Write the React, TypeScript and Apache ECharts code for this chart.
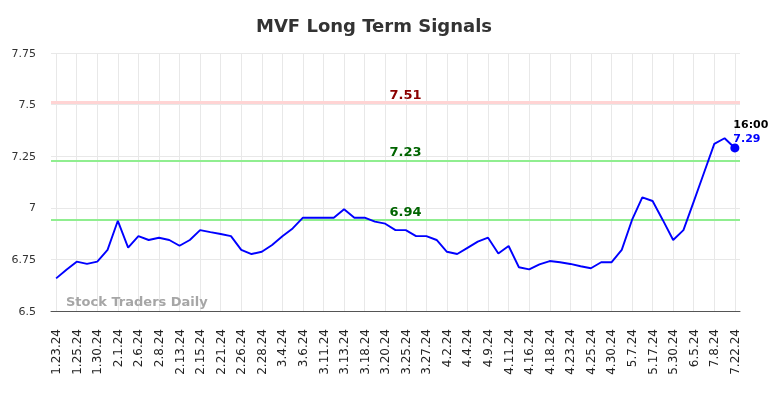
import React, { useEffect, useRef } from "react";
import * as echarts from "echarts";

const categories = [
  "1.23.24","1.24.24","1.25.24","1.29.24","1.30.24","1.31.24","2.1.24","2.5.24","2.6.24","2.7.24",
  "2.8.24","2.12.24","2.13.24","2.14.24","2.15.24","2.20.24","2.21.24","2.23.24","2.26.24","2.27.24",
  "2.28.24","3.1.24","3.4.24","3.5.24","3.6.24","3.8.24","3.11.24","3.12.24","3.13.24","3.15.24",
  "3.18.24","3.19.24","3.20.24","3.22.24","3.25.24","3.26.24","3.27.24","4.1.24","4.2.24","4.3.24",
  "4.4.24","4.8.24","4.9.24","4.10.24","4.11.24","4.15.24","4.16.24","4.17.24","4.18.24","4.22.24",
  "4.23.24","4.24.24","4.25.24","4.29.24","4.30.24","5.3.24","5.7.24","5.13.24","5.17.24","5.22.24",
  "5.30.24","6.3.24","6.5.24","6.20.24","7.8.24","7.15.24","7.22.24"
];

const prices = [
  6.658, 6.70, 6.739, 6.728, 6.739, 6.796, 6.937, 6.807, 6.863, 6.844,
  6.855, 6.844, 6.816, 6.844, 6.892, 6.882, 6.873, 6.863, 6.796, 6.776,
  6.787, 6.82, 6.862, 6.90, 6.952, 6.952, 6.952, 6.952, 6.993, 6.952,
  6.952, 6.933, 6.923, 6.892, 6.892, 6.863, 6.863, 6.844, 6.787, 6.776,
  6.806, 6.836, 6.855, 6.779, 6.815, 6.712, 6.702, 6.726, 6.742, 6.736,
  6.728, 6.717, 6.707, 6.736, 6.736, 6.796, 6.941, 7.051, 7.033, 6.94,
  6.844, 6.892, 7.03, 7.17, 7.31, 7.337, 7.29
];

const resistance = 7.51;
const supports = [7.23, 6.94];
const lastTime = "16:00";
const lastValue = 7.29;
const yTicks = { min: 6.5, max: 7.75, interval: 0.25 };

const FONT = "DejaVu Sans";

export default function App() {
  const ref = useRef<HTMLDivElement>(null);
  useEffect(() => {
    if (!ref.current) return;
    const chart = echarts.init(ref.current, undefined, { renderer: "svg" });
    const lastIdx = prices.length - 1;
    const seriesData = prices.map((v, i) =>
      i === lastIdx
        ? {
            value: v,
            symbol: "circle",
            symbolSize: 9,
            itemStyle: { color: "#0000ff" },
            label: {
              show: true,
              position: [3, -26],
              align: "left",
              verticalAlign: "top",
              formatter: `{a|${lastTime}}\n{b|${lastValue.toFixed(2)}}`,
              rich: {
                a: { fontFamily: FONT, fontSize: 11, fontWeight: "bold", color: "#000", lineHeight: 14 },
                b: { fontFamily: FONT, fontSize: 11, fontWeight: "bold", color: "#0000ff", lineHeight: 14 },
              },
            },
          }
        : { value: v, symbol: "none" }
    );
    const mkLabel = (color: string) => ({
      show: true,
      position: "insideMiddleTop",
      formatter: (p: any) => String(p.value),
      color,
      fontFamily: FONT,
      fontSize: 13,
      fontWeight: "bold",
      offset: [10, 3],
    });
    chart.setOption({
      animation: false,
      title: {
        text: "MVF Long Term Signals",
        left: 251,
        top: 11,
        textStyle: { fontFamily: FONT, fontSize: 18, fontWeight: "bold", color: "#333" },
      },
      grid: { left: 51, right: 44, top: 53, bottom: 87 },
      xAxis: {
        type: "category",
        data: categories,
        boundaryGap: true,
        axisLine: { lineStyle: { color: "#555", width: 1 } },
        axisTick: { show: false },
        axisLabel: {
          interval: 1,
          rotate: 90,
          margin: 18,
          fontFamily: FONT,
          fontSize: 12,
          color: "#222",
        },
        splitLine: {
          show: true,
          interval: 1,
          alignWithLabel: true,
          lineStyle: { color: "#e8e8e8", width: 1 },
        },
      },
      yAxis: {
        type: "value",
        min: yTicks.min,
        max: yTicks.max,
        interval: yTicks.interval,
        axisLine: { show: false },
        axisTick: { show: false },
        axisLabel: { fontFamily: FONT, fontSize: 11, color: "#333", margin: 15 },
        splitLine: { lineStyle: { color: "#e8e8e8", width: 1 } },
      },
      graphic: [
        {
          type: "text",
          left: 66,
          top: 295,
          style: {
            text: "Stock Traders Daily",
            font: `bold 13px "${FONT}"`,
            fill: "#a6a6a6",
          },
          z: 10,
        },
      ],
      series: [
        {
          type: "line",
          data: seriesData,
          showSymbol: true,
          lineStyle: { color: "#0000ff", width: 1.9 },
          itemStyle: { color: "#0000ff" },
          z: 5,
          markLine: {
            silent: true,
            symbol: "none",
            animation: false,
            data: [
              {
                yAxis: resistance,
                lineStyle: { color: "#ffd4d4", width: 3, type: "solid" },
                label: mkLabel("#8b0000"),
              },
              ...supports.map((s) => ({
                yAxis: s,
                lineStyle: { color: "#90ee90", width: 2, type: "solid" },
                label: mkLabel("#006400"),
              })),
            ],
          },
        },
      ],
    });
    return () => chart.dispose();
  }, []);
  return (
    <div
      ref={ref}
      style={{ position: "fixed", left: 0, top: 0, width: 784, height: 398 }}
    />
  );
}
